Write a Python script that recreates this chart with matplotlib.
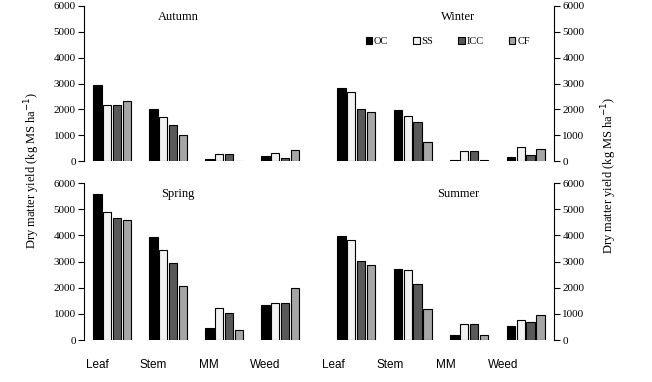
import numpy as np
import matplotlib
matplotlib.use("Agg")
import matplotlib.pyplot as plt
from matplotlib.transforms import ScaledTranslation

plt.rcParams['font.family'] = ['Liberation Serif', 'DejaVu Serif']

parts = ["Leaf", "Stem", "MM", "Weed"]
treatments = ["OC", "SS", "ICC", "CF"]
colors = ["#000000", "#f2f2f2", "#595959", "#a6a6a6"]

autumn = [[2960, 2030, 60, 180],
          [2150, 1720, 260, 320],
          [2150, 1380, 260, 130],
          [2340, 990, 10, 440]]
winter = [[2840, 1990, 50, 170],
          [2680, 1750, 400, 550],
          [2030, 1520, 400, 250],
          [1910, 750, 50, 480]]
spring = [[5570, 3920, 470, 1320],
          [4900, 3450, 1240, 1430],
          [4670, 2950, 1030, 1430],
          [4600, 2070, 380, 1970]]
summer = [[3980, 2730, 210, 520],
          [3820, 2690, 600, 780],
          [3030, 2140, 600, 670],
          [2880, 1200, 210, 950]]

fig = plt.figure(figsize=(6.52, 3.82), dpi=100)
ax_aut = fig.add_axes([0.129, 0.5785, 0.3436, 0.4058])
ax_win = fig.add_axes([0.503, 0.5785, 0.3466, 0.4058])
ax_spr = fig.add_axes([0.129, 0.1099, 0.3436, 0.411])
ax_sum = fig.add_axes([0.503, 0.1099, 0.3466, 0.411])

x = np.arange(len(parts))
w = 0.15
step = 0.175

def draw(ax, data, title, right=False):
    for i, vals in enumerate(data):
        ax.bar(x + (i - 1.5) * step, vals, w, color=colors[i], edgecolor="black",
               linewidth=0.8, label=treatments[i])
    ax.set_xlim(-0.5, 3.5)
    ax.set_ylim(0, 6000)
    ax.set_yticks(np.arange(0, 6001, 1000))
    tx = 0.575 if right else 0.42
    ax.text(tx, 0.93, title, transform=ax.transAxes, ha="center", va="center", fontsize=9)
    for s in ["top", "bottom"]:
        ax.spines[s].set_visible(False)
    if right:
        ax.spines["left"].set_visible(False)
        ax.yaxis.tick_right()
    else:
        ax.spines["right"].set_visible(False)
    ax.tick_params(axis="y", labelsize=8, length=4, width=0.8, pad=2)
    ax.set_xticks([])

draw(ax_aut, autumn, "Autumn")
draw(ax_win, winter, "Winter", right=True)
draw(ax_spr, spring, "Spring")
draw(ax_sum, summer, "Summer", right=True)

for ax, shift in [(ax_spr, -15), (ax_sum, -23)]:
    ax.set_xticks(x)
    ax.set_xticklabels(parts, fontsize=8.5, family=["Liberation Sans", "DejaVu Sans"])
    ax.tick_params(axis="x", length=0, pad=14)
    for lab in ax.get_xticklabels():
        lab.set_transform(lab.get_transform() + ScaledTranslation(shift / 100, 0, fig.dpi_scale_trans))

ax_win.legend(loc="center", bbox_to_anchor=(0.53, 0.77), ncol=4, frameon=False,
              fontsize=7.5, handlelength=0.6, handleheight=0.6, handletextpad=0.2,
              columnspacing=2.4)

ylab = "Dry matter yield (kg MS ha$^{-1}$)"
fig.text(0.05, 0.555, ylab, rotation=90, ha="center", va="center", fontsize=9)
fig.text(0.935, 0.54, ylab, rotation=90, ha="center", va="center", fontsize=9)

fig.savefig("out.png", dpi=100)
